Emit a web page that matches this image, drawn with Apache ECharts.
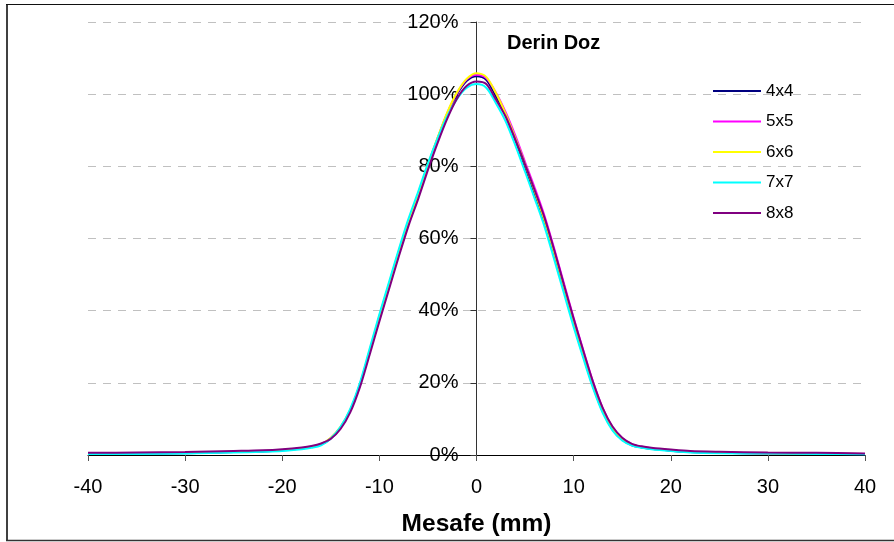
<!DOCTYPE html>
<html>
<head>
<meta charset="utf-8">
<script src="https://cdn.jsdelivr.net/npm/echarts@6/dist/echarts.min.js"></script>
<style>html,body{margin:0;padding:0;background:#fff;}#chart{width:894px;height:542px;}</style>
</head>
<body>
<div id="chart"></div>
<script>
const distances = [-40,-35,-30,-25,-22,-20,-18,-17,-16,-15,-14,-13,-12,-11,-10,-9,-8,-7,-6,-5,-4,-3,-2,-1,0,1,2,3,4,5,6,7,8,9,10,11,12,13,14,15,16,17,18,20,22,25,30,35,40];
const seriesNames = ['4x4','5x5','6x6','7x7','8x8'];
const seriesColors = ['#000080','#FF00FF','#FFFF00','#00FFFF','#800080'];
const dose4x4 = [0.3,0.4,0.5,0.8,1.0,1.3,1.8,2.2,2.9, 4.6,7.6,12.3,19.5,28.7,38.2,47.2,56.2,64.7,72.2,80.2,87.7,94.6,100,103.7,105,104,99.4,94.3,87.3,79.8,72.3,64.5,55.5,45.8,36.3,27.4,19,12,7.1,4.2, 2.7,2.1,1.7,1.2,0.8,0.6,0.4,0.3,0.2];
const dose5x5 = [0.4,0.5,0.6,0.9,1.1,1.4,1.9,2.3,3.0, 4.7,7.7,12.4,19.5,28.8,38.3,47.3,56.3,64.8,72.3,80.3,87.8,94.8,100.3,104.1,105.4,104.5,100.4,95,88.5,81.2,74,66.3,57.2,47.6,38,29,20.3,13,7.8,4.7, 3.0,2.3,1.9,1.3,0.9,0.7,0.5,0.4,0.3];
const dose6x6 = [0.4,0.5,0.6,0.9,1.1,1.4,1.9,2.3,3.0, 4.8,7.8,12.5,19.5,29,38.5,47.5,56.5,65,72.5,80.5,88,95,100.5,104.3,105.8,104.8,100.3,94.5,87.8,80.5,73,65,56,46.5,37,28,19.5,12.5,7.5,4.5, 2.9,2.2,1.8,1.3,0.9,0.7,0.5,0.4,0.3];
const dose7x7 = [0.3,0.3,0.4,0.7,0.9,1.1,1.6,2.0,2.7, 4.6,7.8,12.8,20,29.5,39,48,57,65.5,73,80.8,87.8,94,98.7,101.8,102.8,101.8,97.5,92.5,85.8,78.5,71,63.3,54.2,44.8,35.5,26.8,18.5,11.6,6.8,4.0, 2.6,2.0,1.6,1.1,0.7,0.5,0.4,0.3,0.2];
const dose8x8 = [0.6,0.7,0.8,1.1,1.3,1.6,2.1,2.5,3.2, 4.5,7.2,11.8,18.8,27.8,37,46,55,63.5,71,79,86.5,93.3,98.8,102.3,103.5,102.8,98.5,93.8,87.4,80.5,73.3,65.8,56.8,47.2,37.8,28.8,20.2,13,7.9,4.8, 3.1,2.4,2.0,1.5,1.1,0.9,0.7,0.6,0.4];
const allDoses = [dose4x4, dose5x5, dose6x6, dose7x7, dose8x8];
const chartTitle = 'Derin Doz';
const xAxisTitle = 'Mesafe (mm)';

const FONT = '"Liberation Sans", Arial, sans-serif';
const chart = echarts.init(document.getElementById('chart'), null, {renderer: 'canvas'});

const GRID_LEFT = 88, GRID_RIGHT = 29;
const plotWidth = 894 - GRID_LEFT - GRID_RIGHT;
// y axis sits at x = 0 on the distance axis
const yAxisOffset = -plotWidth * (0 - (-40)) / 80;

const series = seriesNames.map((name, i) => ({
  name: name,
  type: 'line',
  data: distances.map((d, j) => [d, allDoses[i][j]]),
  symbol: 'none',
  smooth: 0.3,
  lineStyle: {color: seriesColors[i], width: 2},
  itemStyle: {color: seriesColors[i]},
  z: 3 + i
}));

chart.setOption({
  animation: false,
  backgroundColor: '#fff',
  grid: {left: GRID_LEFT, right: GRID_RIGHT, top: 22, bottom: 87, containLabel: false},
  title: {
    text: chartTitle, left: 502, top: 28,
    textStyle: {fontFamily: FONT, fontSize: 20, fontWeight: 'bold', color: '#000'}
  },
  legend: {
    orient: 'vertical', left: 708, top: 77,
    itemWidth: 48, itemHeight: 14, itemGap: 12.5,
    icon: 'path://M0,0 L48,0 L48,2 L0,2 Z',
    data: seriesNames,
    textStyle: {fontFamily: FONT, fontSize: 17, color: '#000', lineHeight: 18}
  },
  xAxis: {
    type: 'value', min: -40, max: 40, interval: 10,
    name: xAxisTitle, nameLocation: 'middle', nameGap: 57,
    nameTextStyle: {fontFamily: FONT, fontSize: 24.5, fontWeight: 'bold', color: '#000'},
    axisLine: {onZero: false, lineStyle: {color: '#000', width: 1}},
    axisTick: {show: true, length: 6, lineStyle: {color: '#555'}},
    axisLabel: {fontFamily: FONT, fontSize: 20, color: '#000', margin: 22},
    splitLine: {show: false}
  },
  yAxis: {
    type: 'value', min: 0, max: 120, interval: 20,
    position: 'left', offset: yAxisOffset,
    axisLine: {show: true, onZero: false, lineStyle: {color: '#333', width: 1}},
    axisTick: {show: true, length: 6, lineStyle: {color: '#333'}},
    axisLabel: {fontFamily: FONT, fontSize: 20, color: '#000', margin: 18, formatter: '{value}%'},
    splitLine: {show: true, lineStyle: {color: '#c0c0c0', type: [8, 7], width: 1}}
  },
  graphic: [
    {type: 'line', shape: {x1: 7, y1: 4, x2: 7, y2: 541}, style: {stroke: '#404040', lineWidth: 2}, silent: true},
    {type: 'line', shape: {x1: 6, y1: 4.5, x2: 894, y2: 4.5}, style: {stroke: '#111', lineWidth: 1}, silent: true},
    {type: 'line', shape: {x1: 6, y1: 540.5, x2: 894, y2: 540.5}, style: {stroke: '#333', lineWidth: 1.5}, silent: true}
  ],
  series: series
});
</script>
</body>
</html>
